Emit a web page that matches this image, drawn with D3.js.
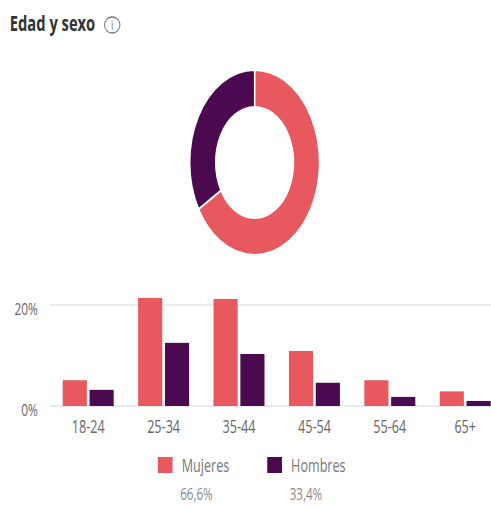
<!DOCTYPE html>
<html>
<head>
<meta charset="utf-8">
<script src="https://cdn.jsdelivr.net/npm/d3@7"></script>
<style>
  html, body { margin: 0; padding: 0; background: #fff; }
  svg { display: block; }
  text { font-family: "Open Sans", "Noto Sans", sans-serif; }
</style>
</head>
<body>
<div id="chart"></div>
<script>
// Age groups and share of audience (%) by sex
const ageGroups = ["18-24", "25-34", "35-44", "45-54", "55-64", "65+"];
const mujeres = [5.1, 21.4, 21.2, 10.9, 5.1, 2.9];
const hombres = [3.2, 12.5, 10.3, 4.6, 1.8, 1.0];
const sexes = ["Mujeres", "Hombres"];
const totals = [66.6, 33.4];
const totalLabels = ["66,6%", "33,4%"];
const yTicks = [0, 20];

const colors = { Mujeres: "#e8585f", Hombres: "#4b0a50" };

// Drawn on a 700-wide canvas, displayed condensed into 491px
const W = 700, H = 509;
const svg = d3.select("#chart").append("svg")
  .attr("width", 491).attr("height", H)
  .attr("viewBox", `0 0 ${W} ${H}`)
  .attr("preserveAspectRatio", "none");

// Title
svg.append("text")
  .attr("x", 14).attr("y", 31)
  .attr("font-size", 21).attr("font-weight", 700)
  .attr("fill", "#333")
  .text("Edad y sexo");
const info = svg.append("g").attr("transform", "translate(160,25)");
info.append("ellipse").attr("rx", 11).attr("ry", 8)
  .attr("fill", "none").attr("stroke", "#777").attr("stroke-width", 1.3);
info.append("text").attr("text-anchor", "middle").attr("y", 5)
  .attr("font-size", 13).attr("fill", "#777").text("i");

// Donut
const pie = d3.pie().sort(null).value(d => d.v);
const arc = d3.arc().innerRadius(55.5).outerRadius(92.5);
const donut = svg.append("g").attr("transform", "translate(363,162.5)");
donut.selectAll("path")
  .data(pie(sexes.map((s, i) => ({ s, v: totals[i] }))))
  .join("path")
  .attr("d", arc)
  .attr("fill", d => colors[d.data.s])
  .attr("stroke", "#fff").attr("stroke-width", 2);

// Grouped bars
const x0 = d3.scaleBand().domain(ageGroups).range([72, 717])
  .paddingInner(0.324).paddingOuter(0.162);
const x1 = d3.scaleBand().domain(sexes).range([0, x0.bandwidth()]).paddingInner(0.1);
const y = d3.scaleLinear().domain([0, 20]).range([406, 305]);

const grid = svg.append("g");
grid.selectAll("line").data(yTicks).join("line")
  .attr("x1", 71).attr("x2", W)
  .attr("y1", d => y(d)).attr("y2", d => y(d))
  .attr("stroke", d => d === 0 ? "#dfe3ea" : "#e6e6e6").attr("stroke-width", 1.5);

const yAxis = svg.append("g").attr("transform", "translate(54,0)")
  .call(d3.axisLeft(y).tickValues(yTicks).tickFormat(d => d + "%").tickSize(0).tickPadding(0));
yAxis.select(".domain").remove();
yAxis.selectAll("text").attr("font-size", 17).attr("fill", "#666")
  .attr("font-family", "'Open Sans', sans-serif").attr("dy", "0.55em");

const rows = ageGroups.map((g, i) => ({ g, vals: [
  { s: "Mujeres", v: mujeres[i] }, { s: "Hombres", v: hombres[i] }] }));
const groups = svg.append("g").selectAll("g").data(rows).join("g")
  .attr("transform", d => `translate(${x0(d.g)},0)`);
groups.selectAll("rect").data(d => d.vals).join("rect")
  .attr("x", d => x1(d.s)).attr("width", x1.bandwidth())
  .attr("y", d => y(d.v)).attr("height", d => y(0) - y(d.v))
  .attr("fill", d => colors[d.s]);

const xAxis = svg.append("g").attr("transform", `translate(0,${y(0)})`)
  .call(d3.axisBottom(x0).tickSize(0).tickPadding(14));
xAxis.select(".domain").remove();
xAxis.selectAll("text").attr("font-size", 18).attr("fill", "#666")
  .attr("font-family", "'Open Sans', sans-serif");

// Legend
const legendX = [225, 381];
const legend = svg.append("g").selectAll("g").data(sexes).join("g")
  .attr("transform", (d, i) => `translate(${legendX[i]},0)`);
legend.append("rect").attr("x", 0).attr("y", 457)
  .attr("width", 21).attr("height", 16).attr("fill", d => colors[d]);
legend.append("text").attr("x", 34).attr("y", 472)
  .attr("font-size", 18).attr("fill", "#777").text(d => d);
legend.append("text").attr("x", 32).attr("y", 500)
  .attr("font-size", 16.5).attr("fill", "#888").text((d, i) => totalLabels[i]);
</script>
</body>
</html>
